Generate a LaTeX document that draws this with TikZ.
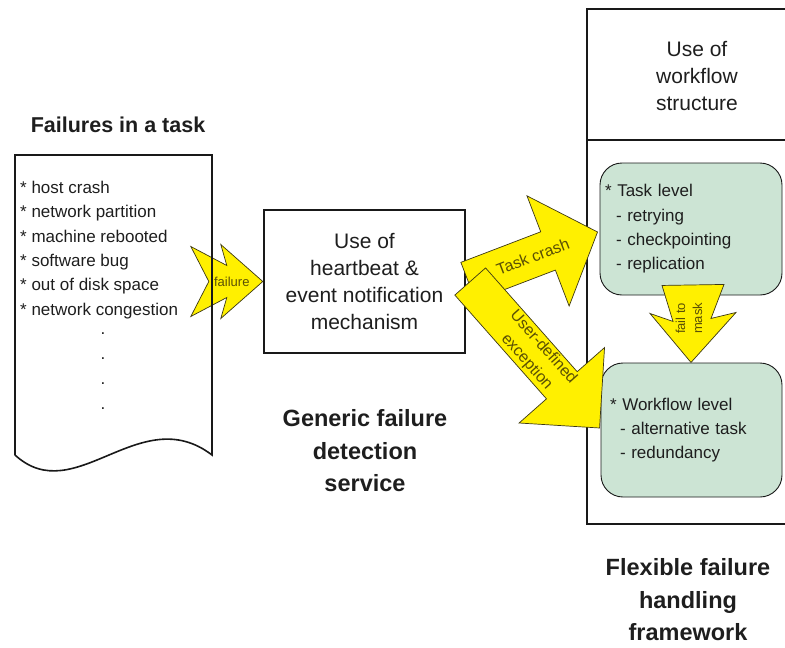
\documentclass[tikz,border=0pt]{standalone}
\usepackage{fontspec}
\setmainfont{Liberation Sans}
\usepackage{tikz}
\usetikzlibrary{calc}

\definecolor{inktext}{RGB}{30,30,30}
\definecolor{inkline}{RGB}{25,25,25}
\definecolor{arrowyellow}{RGB}{255,240,0}
\definecolor{arrowedge}{RGB}{60,55,20}
\definecolor{arrowtext}{RGB}{90,80,5}
\definecolor{levelgreen}{RGB}{204,228,212}

\newcommand{\titlesize}{\fontsize{21.5}{26}\selectfont\bfseries}
\newcommand{\bigsize}{\fontsize{23.5}{32.5}\selectfont\bfseries}
\newcommand{\boxsize}{\fontsize{21}{26.7}\selectfont}
\newcommand{\listsize}{\fontsize{17}{24.3}\selectfont}
\newcommand{\arrowsize}{\fontsize{16}{22}\selectfont}
\newcommand{\tinyarrowsize}{\fontsize{13}{17}\selectfont}

% fat arrow: tail, tip, half shaft, half head, head length
\newcommand{\blockarrow}[5]{%
  \coordinate (ba-neck) at ($(#2)!#5!(#1)$);
  \filldraw[arrowbody] ($(#1)!#3!90:(#2)$) -- ($(ba-neck)!#3!-90:(#1)$)
    -- ($(ba-neck)!#4!-90:(#1)$) -- (#2) -- ($(ba-neck)!#4!90:(#1)$)
    -- ($(ba-neck)!#3!90:(#1)$) -- ($(#1)!#3!-90:(#2)$) -- cycle;}

\begin{document}
\begin{tikzpicture}[
            x = 1pt, y = -1pt, % one unit per pixel of the scan
            every node/.style = {text = inktext, inner sep = 0pt},
            arrowbody/.style = {fill = arrowyellow, draw = arrowedge, line width = 0.7pt},
            outline/.style = {draw = inkline, line width = 2pt}
        ]

        \tikzstyle{levelbox}=[
            draw = inkline,
            line width = 0.9pt,
            fill = levelgreen,
            rounded corners = 22pt,
            align = left,
            font = \listsize,
            inner xsep = 5pt
        ]

        \useasboundingbox (0,0) rectangle (785,648);

        % failures
        \node[anchor = base, font = \titlesize] (failtitle) at (118,132) {Failures in a task};
        \node[anchor = north west, align = left, font = \listsize] (faillist) at (20,181)
            {* host crash\\* network partition\\* machine rebooted\\* software bug\\* out of disk space\\* network congestion};
        \foreach \i/\y in {1/334, 2/359, 3/384, 4/409}
            \node[anchor = base, font = \listsize] (dot\i) at (103,\y) {.};

        % detection
        \node[outline, line width = 2.4pt, minimum width = 201pt, minimum height = 143pt,
              align = center, font = \boxsize] (detect) at (364.5,281.5)
            {Use of\\heartbeat \&\\event notification\\mechanism};
        \node[align = center, font = \bigsize] (generic) at (365,451) {Generic failure\\detection\\service};

        % handling framework
        \draw[outline] (786,9) -| (587,524) -- (786,524);
        \draw[outline, line width = 1.3pt] (587,140) -- (786,140);
        \node[align = center, font = \boxsize] (wftitle) at (697,76)
            {Use of\\workflow\\structure};
        \node[levelbox, text width = 172pt, minimum height = 132pt] (tasklevel) at (691,229)
            {* Task level\\\hspace*{11pt}- retrying\\\hspace*{11pt}- checkpointing\\\hspace*{11pt}- replication};
        \node[levelbox, inner xsep = 9pt, text width = 163pt, minimum height = 134pt] (workflow) at (691.5,430)
            {* Workflow level\\\hspace*{10pt}- alternative task\\\hspace*{10pt}- redundancy};
        \node[align = center, font = \bigsize] (flexible) at (688,600) {Flexible failure\\handling\\framework};

        % failure arrow
        \filldraw[arrowbody, shift = {(detect.west)}]
            (-72,-35) -- (-36,-16) -- (-42,-37) -- (0,0) -- (-42,37) -- (-36,16) -- (-72,35) -- (-54,0) -- cycle;
        \node[text = arrowtext, font = \tinyarrowsize] (failurelabel) at ([xshift = -31pt] detect.west) {failure};
        \draw[draw = inkline, line width = 1.6pt] (15,455) -- (15,155) -- (212,155) -- (212,455)
            .. controls (140,400) and (75,510) .. (15,455);

        % task crash and user-defined exception
        \coordinate (crash-tail) at ([xshift = 2pt] detect.east);
        \coordinate (crash-tip) at ([xshift = -2pt, yshift = -3pt] tasklevel.west);
        \blockarrow{crash-tail}{crash-tip}{20.5pt}{59pt}{53pt}
        \node[rotate = 21, text = arrowtext, font = \arrowsize] (crashlabel)
            at ($(crash-tail)!0.5!(crash-tip)$) {Task crash};

        \coordinate (user-tail) at ([xshift = 4pt] detect.east);
        \coordinate (user-tip) at ([xshift = -1pt, yshift = 2pt] workflow.west);
        \blockarrow{user-tail}{user-tip}{20.5pt}{57pt}{57pt}
        \node[rotate = -48.3, align = center, text = arrowtext, font = \arrowsize] (userlabel)
            at ($(user-tail)!0.5!(user-tip)$) {User-defined\\exception};

        % fail to mask
        \filldraw[arrowbody, shift = {(tasklevel.south)}]
            (-29,-10) -- (33,-11) -- (20,23) -- (45,17) -- (0,67) -- (-41,18) -- (-18,26) -- cycle;
        \node[rotate = 90, align = center, text = arrowtext, font = \tinyarrowsize] (masklabel)
            at ([shift = {(-2pt,-23pt)}] tasklevel.south) {fail to\\mask};

\end{tikzpicture}
\end{document}
